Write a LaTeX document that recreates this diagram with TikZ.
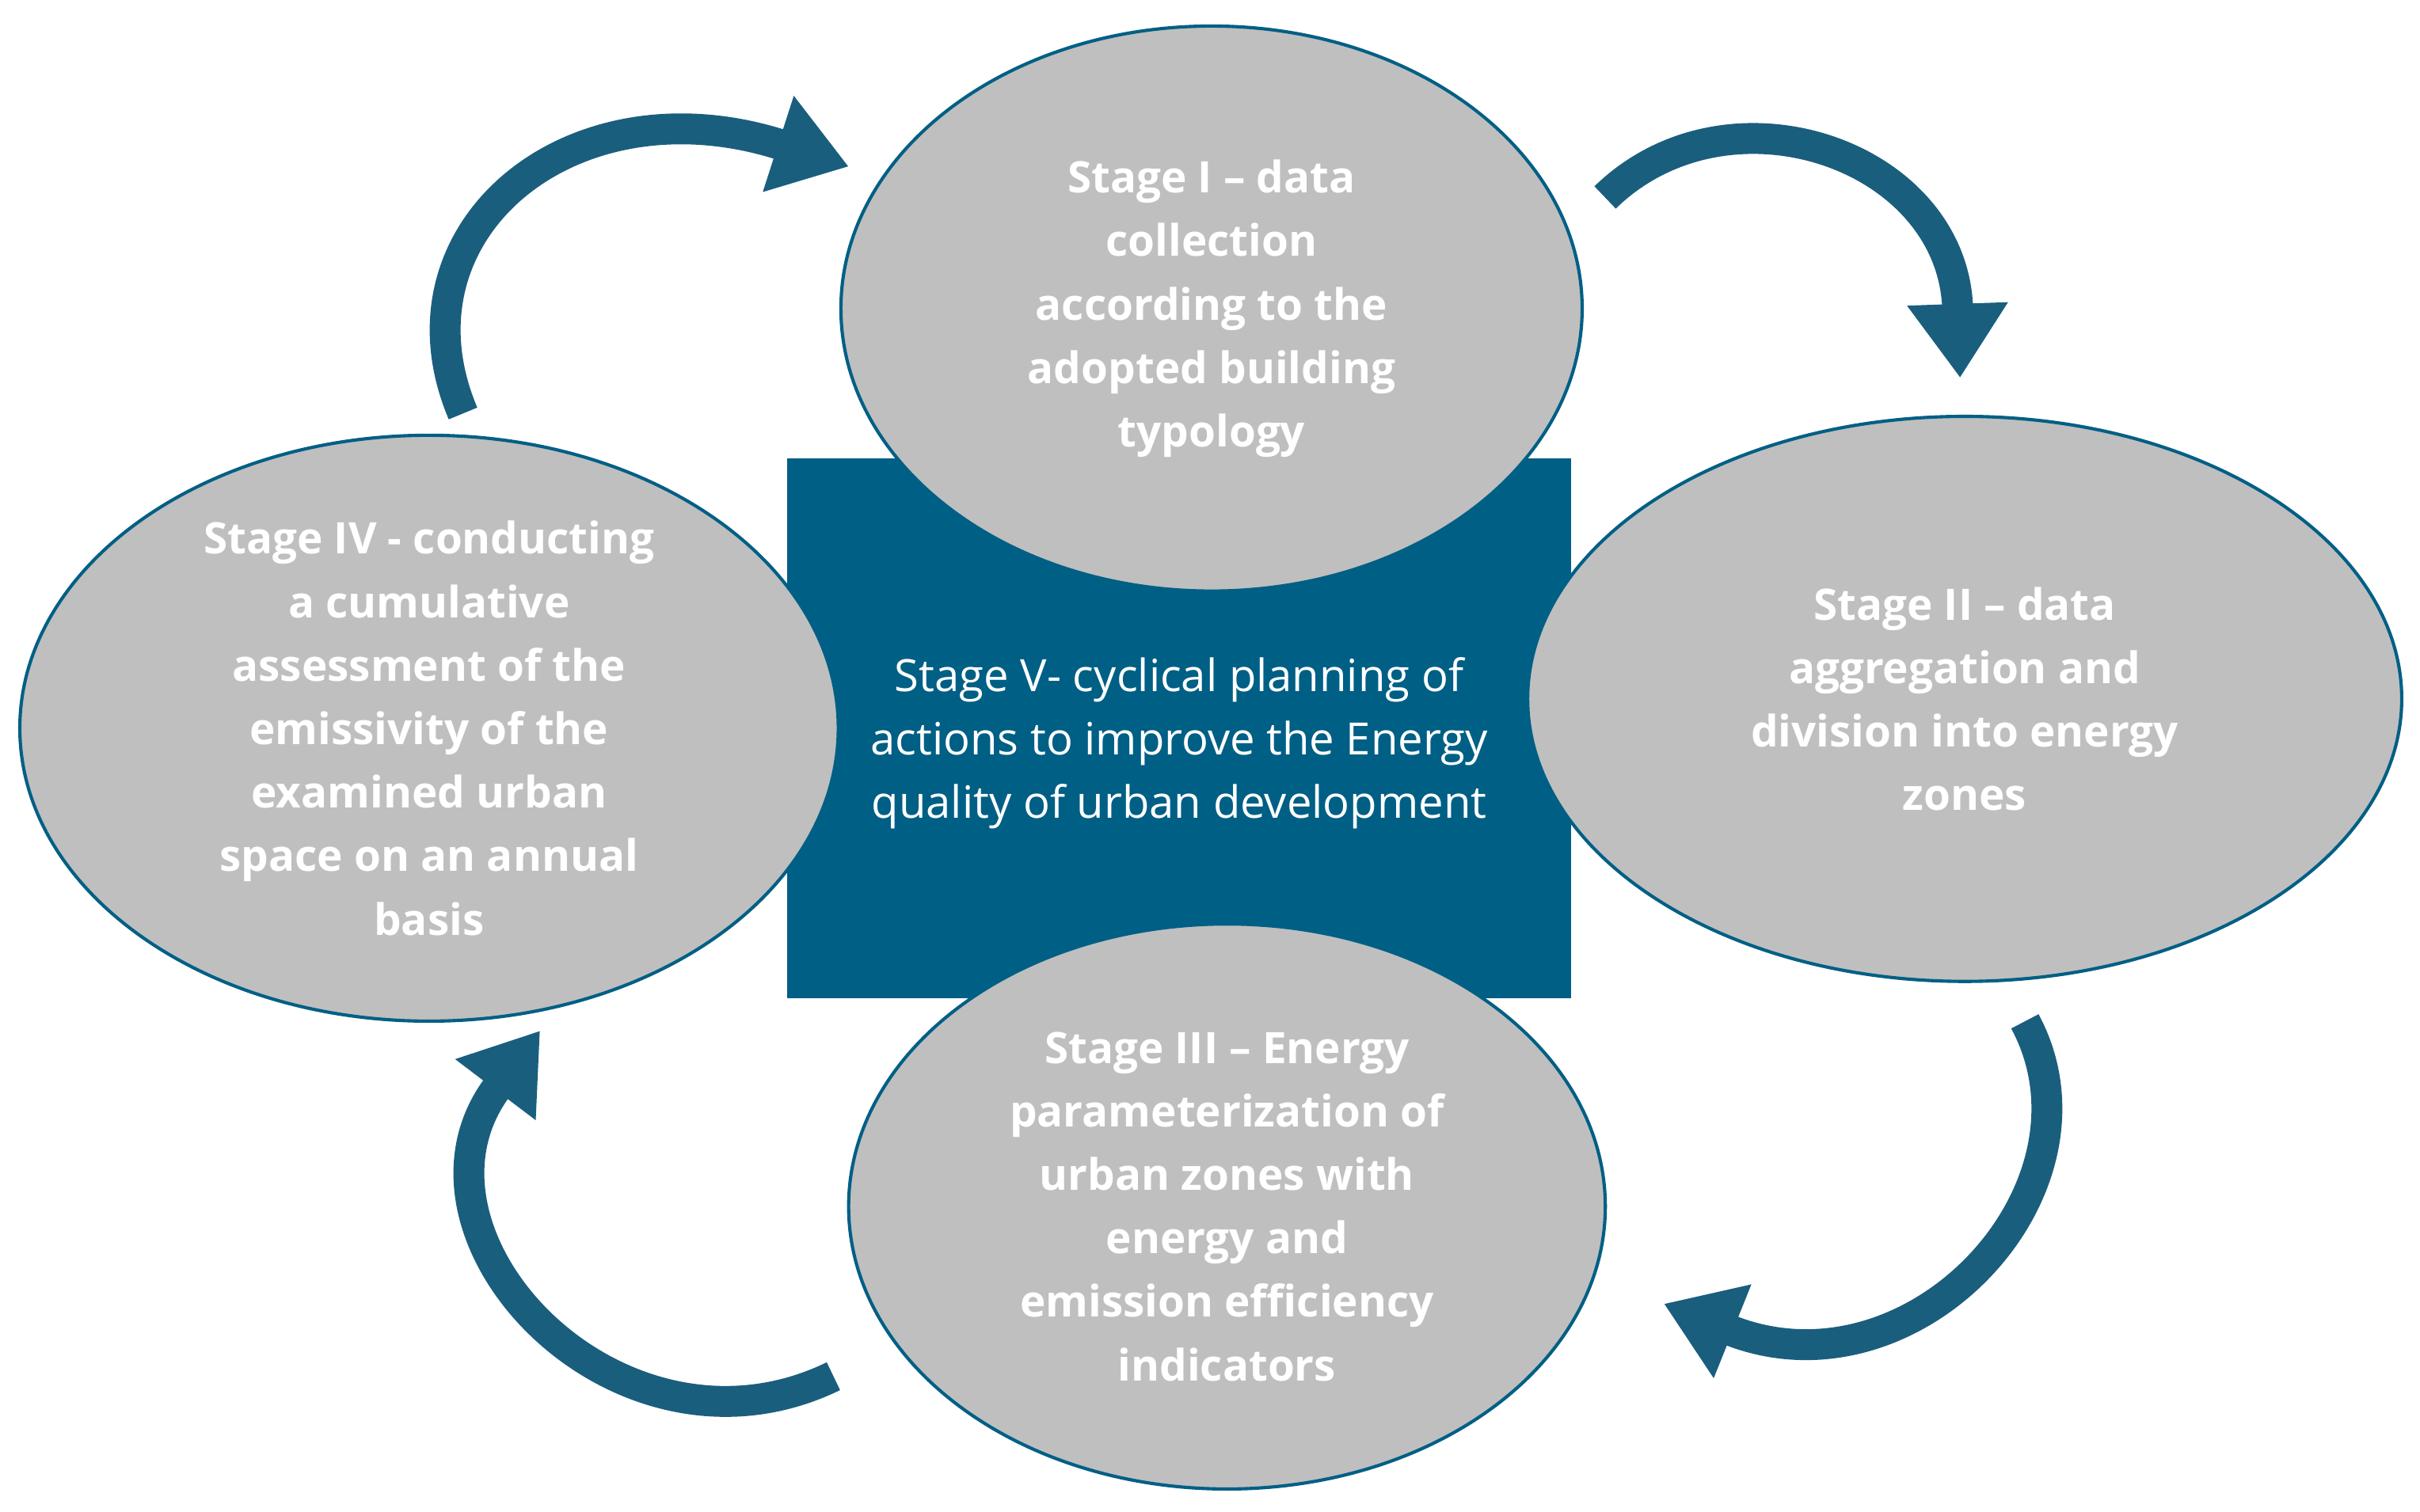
\documentclass[tikz,border=0pt]{standalone}
\usepackage{fontspec}
\setmainfont{Open Sans}
\usetikzlibrary{shapes.geometric,arrows.meta}
\definecolor{teal}{HTML}{005F85}
\definecolor{arr}{HTML}{1A5E7E}
\definecolor{gr}{HTML}{BFBFBF}
\begin{document}
\begin{tikzpicture}[x=0.01cm,y=-0.01cm,
 stage/.style={ellipse,draw=teal,line width=0.6pt,fill=gr,inner sep=0pt,text=white,align=center,font=\bfseries\fontsize{8}{11.7}\selectfont},
 cyc/.style={draw=arr,line width=0.2cm,-{Triangle[width=0.62cm,length=0.48cm]}}]
\useasboundingbox (0,0) rectangle (1568,980);
\fill[white] (0,0) rectangle (1568,980);
\node[fill=teal,minimum width=5.08cm,minimum height=3.5cm,inner sep=0pt,text=white,align=center,font=\fontsize{8.2}{11.7}\selectfont] (v) at (764,472) {\raisebox{0pt}{}\\[-0pt]Stage V- cyclical planning of\\actions to improve the Energy\\quality of urban development};
\node[stage,minimum width=4.8cm,minimum height=3.66cm] (s1) at (785,200) {Stage I -- data\\collection\\according to the\\adopted building\\typology};
\node[stage,minimum width=5.66cm,minimum height=3.66cm] (s2) at (1273,453) {Stage II -- data\\aggregation and\\division into energy\\zones};
\node[stage,minimum width=4.9cm,minimum height=3.66cm] (s3) at (795,782) {Stage III -- Energy\\parameterization of\\urban zones with\\energy and\\emission efficiency\\indicators};
\node[stage,minimum width=5.3cm,minimum height=3.66cm] (s4) at (278,472) {Stage IV - conducting\\a cumulative\\assessment of the\\emissivity of the\\examined urban\\space on an annual\\basis};
\coordinate (a1s) at (300,268); \coordinate (a1e) at (550,108);
\coordinate (a2s) at (1040,128); \coordinate (a2e) at (1270,245);
\coordinate (a3s) at (1312,662); \coordinate (a3e) at (1078,845);
\coordinate (a4s) at (540,892); \coordinate (a4e) at (350,668);
\draw[cyc] (a1s) .. controls (250,150) and (370,50) .. (a1e);
\draw[cyc] (a2s) .. controls (1120,50) and (1265,100) .. (a2e);
\draw[cyc] (a3s) .. controls (1370,770) and (1240,910) .. (a3e);
\draw[cyc] (a4s) .. controls (400,960) and (250,800) .. (a4e);
\end{tikzpicture}
\end{document}
